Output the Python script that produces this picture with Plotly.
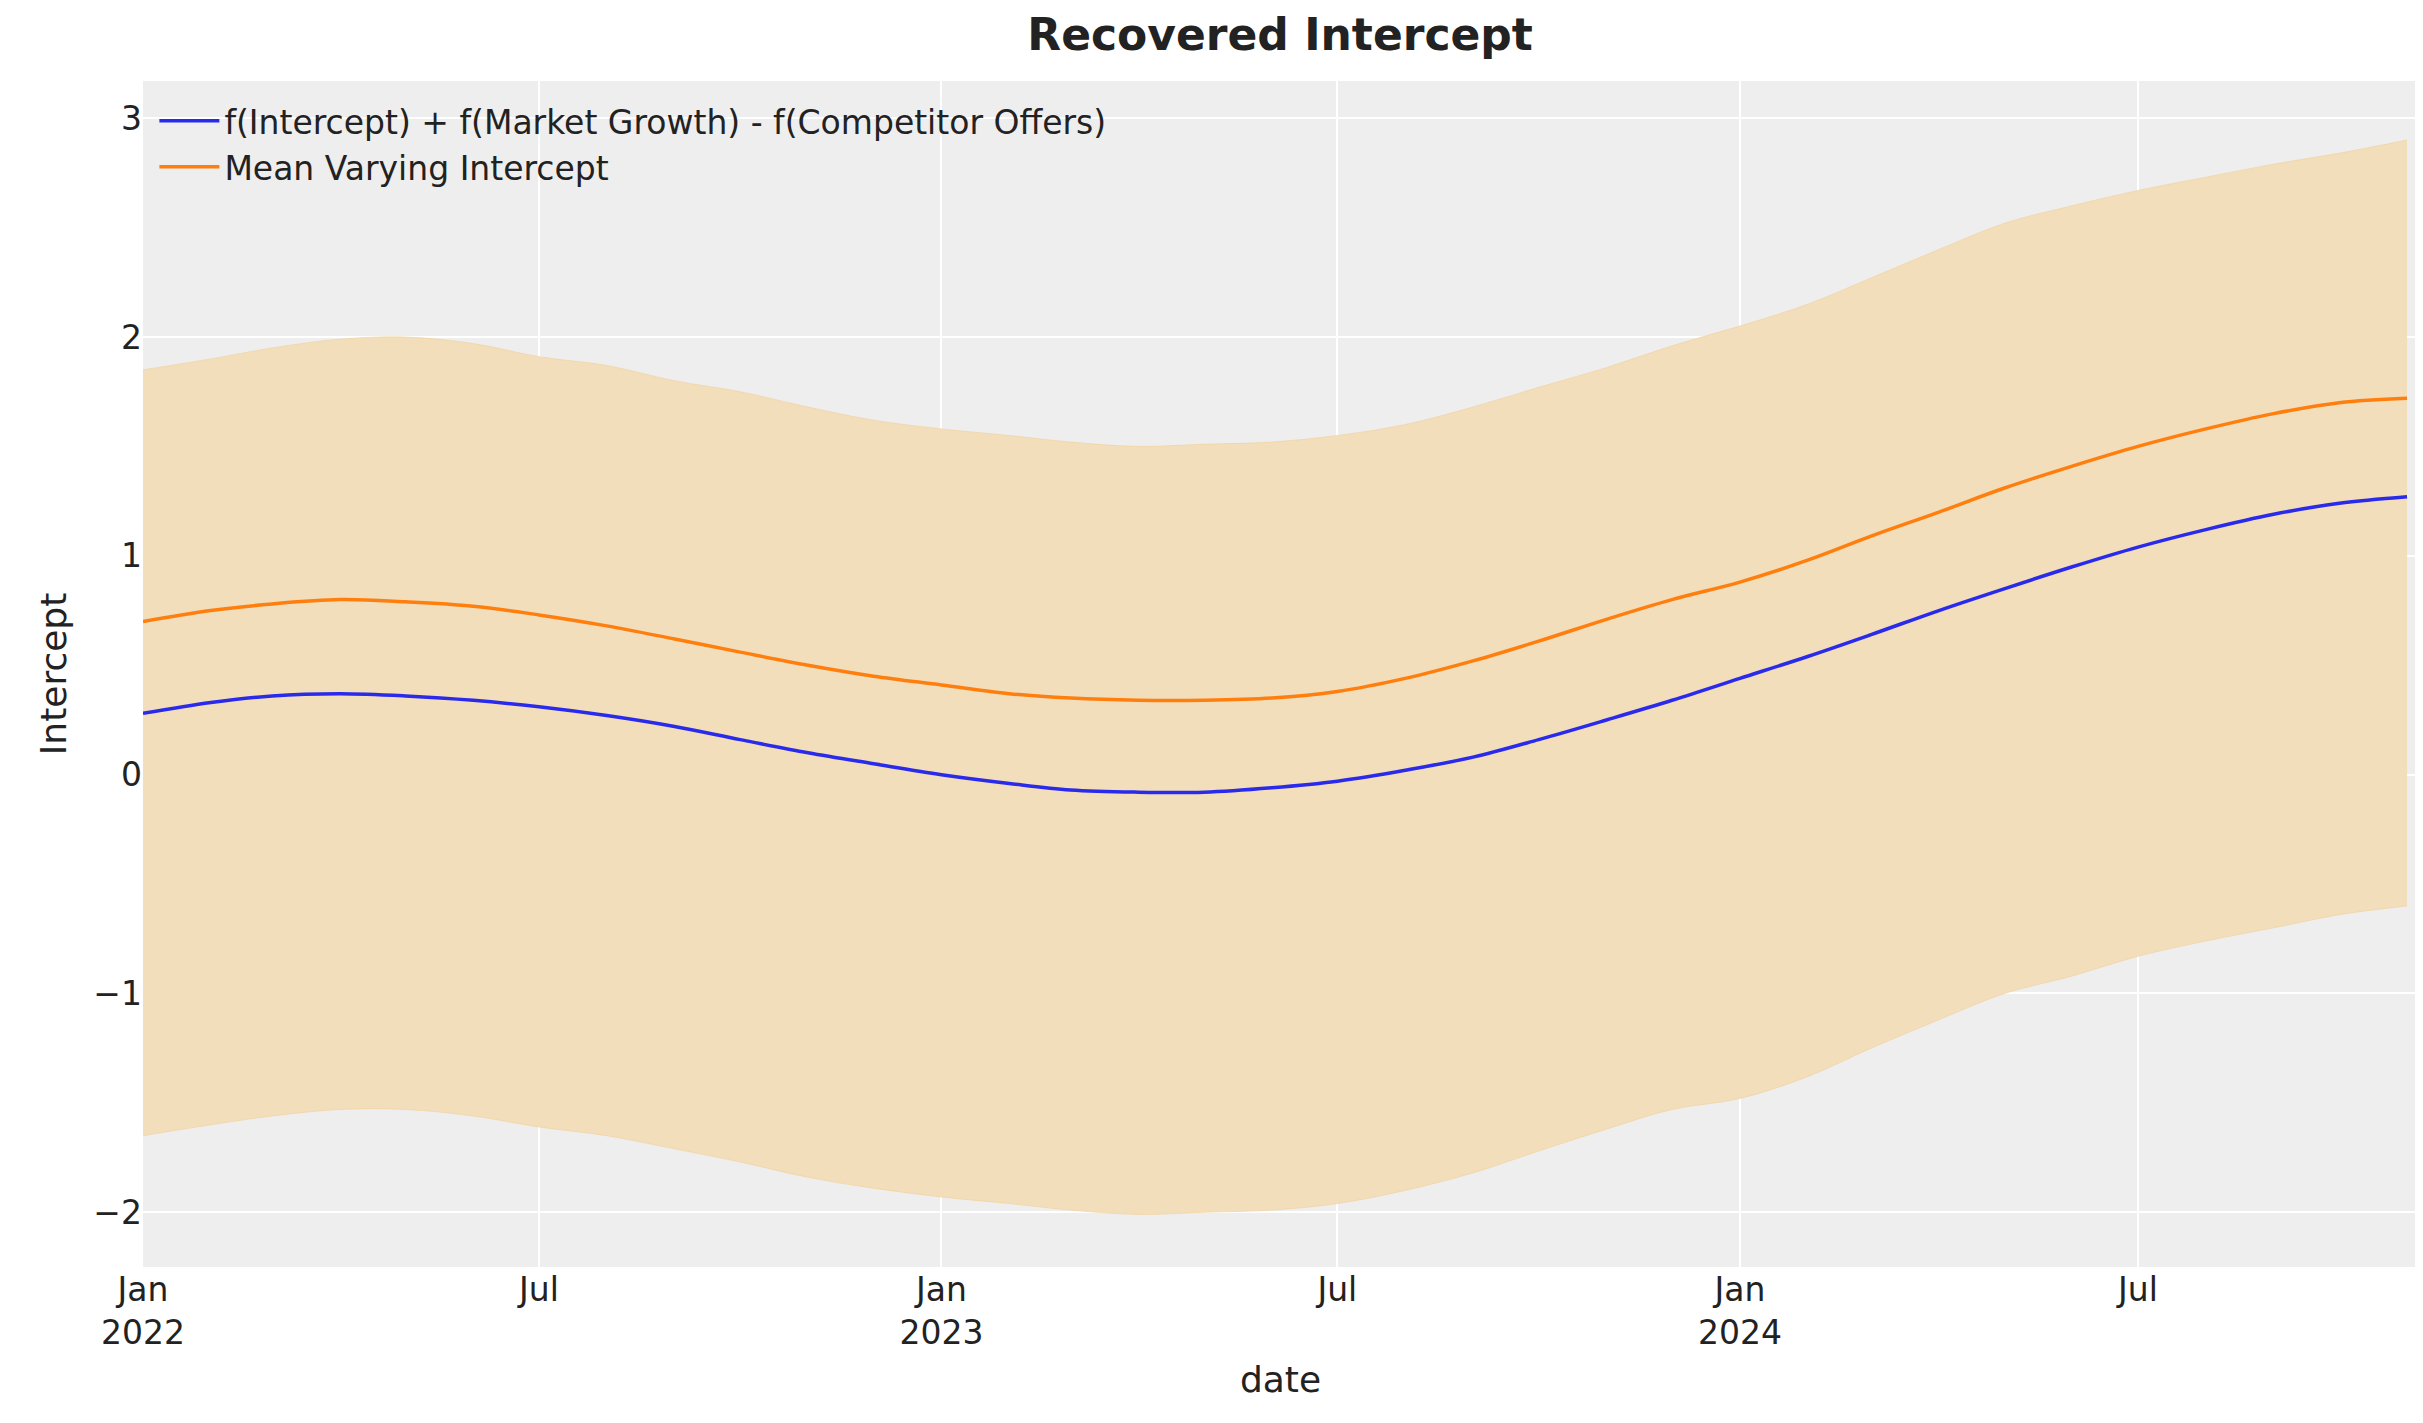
import plotly.graph_objects as go
import pandas as pd

dates = pd.date_range("2022-01-01", "2024-11-01", freq="MS")
blue = [0.28,0.33,0.36,0.37,0.36,0.34,0.31,0.27,0.22,0.16,0.10,0.05,
        0.00,-0.04,-0.07,-0.08,-0.08,-0.06,-0.03,0.02,0.08,0.16,0.25,0.34,
        0.44,0.54,0.64,0.75,0.85,0.95,1.04,1.12,1.19,1.24,1.27]
orange = [0.70,0.75,0.78,0.80,0.79,0.77,0.73,0.68,0.62,0.56,0.50,0.45,
          0.41,0.37,0.35,0.34,0.34,0.35,0.38,0.44,0.52,0.61,0.71,0.80,
          0.88,0.98,1.09,1.20,1.31,1.41,1.50,1.58,1.65,1.70,1.72]
upper = [1.85,1.90,1.95,1.99,2.00,1.97,1.91,1.87,1.80,1.75,1.68,1.62,
         1.58,1.55,1.52,1.50,1.51,1.52,1.55,1.60,1.68,1.77,1.86,1.96,
         2.05,2.15,2.27,2.40,2.52,2.60,2.67,2.73,2.79,2.84,2.90]
lower = [-1.65,-1.60,-1.56,-1.53,-1.53,-1.56,-1.61,-1.65,-1.71,-1.77,-1.84,-1.89,
         -1.93,-1.96,-1.99,-2.01,-2.00,-1.99,-1.96,-1.90,-1.82,-1.72,-1.62,-1.53,
         -1.48,-1.38,-1.25,-1.12,-1.00,-0.92,-0.83,-0.76,-0.70,-0.64,-0.60]
tickvals = ["2022-01-01","2022-07-01","2023-01-01","2023-07-01","2024-01-01","2024-07-01"]
ticktext = ["Jan<br>2022","Jul","Jan<br>2023","Jul","Jan<br>2024","Jul"]

fig = go.Figure()
fig.add_trace(go.Scatter(x=dates, y=upper, mode="lines", line=dict(width=1, color="rgba(242,206,150,0.6)", shape="spline"),
                         showlegend=False, hoverinfo="skip"))
fig.add_trace(go.Scatter(x=dates, y=lower, mode="lines", fill="tonexty", fillcolor="rgba(243,222,188,1)",
                         line=dict(width=1, color="rgba(242,206,150,0.6)", shape="spline"), showlegend=False, hoverinfo="skip"))
fig.add_trace(go.Scatter(x=dates, y=blue, mode="lines", name="f(Intercept) + f(Market Growth) - f(Competitor Offers)",
                         line=dict(color="#2a2aeb", width=3.5, shape="spline")))
fig.add_trace(go.Scatter(x=dates, y=orange, mode="lines", name="Mean Varying Intercept",
                         line=dict(color="#ff7f0e", width=3.5, shape="spline")))

fig.update_layout(
    width=2423, height=1423, paper_bgcolor="white", plot_bgcolor="#eeeeee",
    margin=dict(l=135, r=13, t=73, b=164),
    font=dict(family="DejaVu Sans", size=33, color="#222"),
    title=dict(text="<b>Recovered Intercept</b>", x=0.525, xanchor="center", y=0.992, yanchor="top", font=dict(size=44)),
    legend=dict(x=0.005, y=0.99, xanchor="left", yanchor="top", bgcolor="rgba(0,0,0,0)", font=dict(size=33),
                traceorder="normal", itemwidth=60),
    xaxis=dict(range=["2022-01-01","2024-11-06"], tickvals=tickvals, ticktext=ticktext, showgrid=True,
               gridcolor="white", gridwidth=1.5, zeroline=False, title=dict(text="date", font=dict(size=36)), ticks="", showline=False),
    yaxis=dict(range=[-2.25, 3.17], tickvals=[-2,-1,0,1,2,3], ticktext=["\u22122","\u22121","0","1","2","3"],
               gridcolor="white", gridwidth=1.5, zeroline=False, title=dict(text="Intercept", font=dict(size=36)), ticks=""),
)
fig.write_html("out.html")
